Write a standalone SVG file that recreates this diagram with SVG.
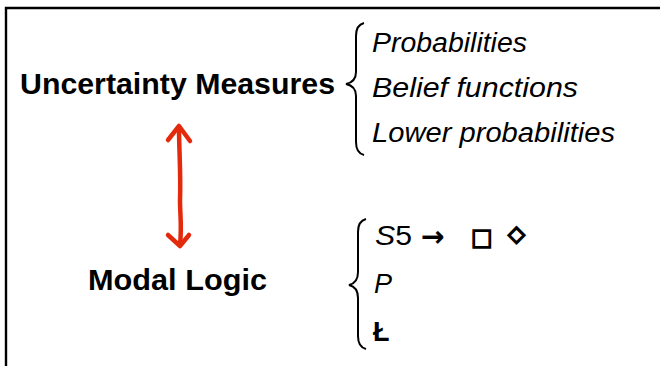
<svg xmlns="http://www.w3.org/2000/svg" width="660" height="366" viewBox="0 0 660 366">
<style>
.h{font-family:"Liberation Sans",Arial,sans-serif;font-weight:bold;font-size:29px;fill:#000}
.it{font-family:"Liberation Sans",Arial,sans-serif;font-style:italic;font-size:27px;fill:#000}
.rm{font-family:"Liberation Sans",Arial,sans-serif;font-size:27px;fill:#000}
.sym{font-family:"DejaVu Sans",sans-serif;font-weight:bold;fill:#000;stroke:#000}
.brace{fill:none;stroke:#000;stroke-width:2}
.red{fill:none;stroke:#e42a0c;stroke-width:4.5;stroke-linecap:round;stroke-linejoin:round}
</style>
<rect width="660" height="366" fill="#fff"/>
<path d="M6,367 V8 H661" fill="none" stroke="#000" stroke-width="2.4"/>
<g id="uncertainty">
<text class="h" x="20" y="94" textLength="315" lengthAdjust="spacingAndGlyphs">Uncertainty Measures</text>
<path class="brace" d="M364,23 Q356,25 356,36 V72 Q356,82 346,84 Q356,86 356,96 V142 Q356,153 364,155"/>
<text class="it" x="372" y="52" textLength="155" lengthAdjust="spacingAndGlyphs">Probabilities</text>
<text class="it" x="372" y="97" textLength="206" lengthAdjust="spacingAndGlyphs">Belief  functions</text>
<text class="it" x="372" y="142" textLength="243" lengthAdjust="spacingAndGlyphs">Lower  probabilities</text>
</g>
<g id="modal">
<text class="h" x="88" y="290" textLength="179" lengthAdjust="spacingAndGlyphs">Modal Logic</text>
<path class="brace" d="M366,219 Q358,221 358,232 V272 Q358,283 349,285 Q358,287 358,298 V336 Q358,347 366,349"/>
<text x="375" y="245" textLength="37" lengthAdjust="spacingAndGlyphs"><tspan class="it">S</tspan><tspan class="rm">5</tspan></text>
<text class="sym" x="421" y="246" style="font-size:28px;stroke-width:0.2">→</text>
<text class="sym" x="471" y="245" style="font-size:23px;stroke-width:1.4">□</text>
<text class="sym" x="508" y="241" style="font-size:22px;stroke-width:1.8">◇</text>
<text class="it" x="374" y="293">P</text>
<text class="h" x="373" y="341" style="font-size:27px">Ł</text>
</g>
<g id="connectors">
<path class="red" d="M179,127 C179,150 181,175 180,200 C180,215 182,225 180,245"/>
<path class="red" d="M168,140 L179,126 L190,141"/>
<path class="red" d="M168,235 L180,246 L189,235"/>
</g>
</svg>
